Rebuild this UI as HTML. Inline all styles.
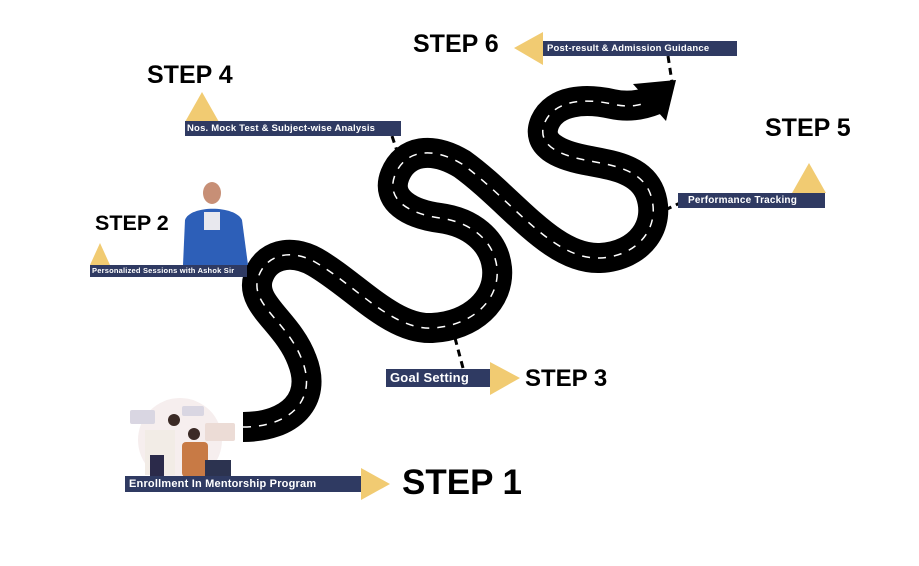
<!DOCTYPE html>
<html><head><meta charset="utf-8"><style>
body{margin:0;width:919px;height:566px;background:#fff;overflow:hidden;position:relative;font-family:"Liberation Sans",sans-serif}
.lbl{position:absolute;background:#2f3a62;color:#fff;font-weight:bold;white-space:nowrap;box-sizing:border-box;padding-left:4px;letter-spacing:0.2px}
.step{position:absolute;font-weight:bold;color:#000;white-space:nowrap}
</style></head><body>
<svg width="919" height="566" style="position:absolute;left:0;top:0">
<g stroke="#000" stroke-width="3" stroke-dasharray="7 5" fill="none">
<line x1="392" y1="136" x2="400" y2="160"/>
<line x1="455" y1="338" x2="463" y2="368"/>
<line x1="668" y1="56" x2="672" y2="82"/>
<line x1="665" y1="210" x2="680" y2="203"/>
</g>
<path d="M243,427 C290,427 318,400 302,360 C288,322 250,305 258,278 C265,255 290,248 315,262 C355,285 392,330 432,328 C472,326 500,300 497,268 C494,240 470,222 440,218 C410,214 385,200 395,175 C405,150 432,146 462,164 C512,200 552,260 600,258 C640,256 662,225 650,193 C640,168 610,165 585,160 C560,155 535,145 545,122 C555,100 585,98 612,104 C630,108 645,104 655,100" fill="none" stroke="#000" stroke-width="30"/>
<path d="M243,427 C290,427 318,400 302,360 C288,322 250,305 258,278 C265,255 290,248 315,262 C355,285 392,330 432,328 C472,326 500,300 497,268 C494,240 470,222 440,218 C410,214 385,200 395,175 C405,150 432,146 462,164 C512,200 552,260 600,258 C640,256 662,225 650,193 C640,168 610,165 585,160 C560,155 535,145 545,122 C555,100 585,98 612,104 C630,108 640,105 648,102" fill="none" stroke="#fff" stroke-width="1.5" stroke-dasharray="8 8"/>
<polygon points="633,84 676,80 666,121" fill="#000"/>
<g fill="#f1cb72">
<polygon points="361,468 361,500 390,484"/>
<polygon points="490,362 490,395 520,378"/>
<polygon points="90,265 110,265 100,243"/>
<polygon points="185,122 219,122 202,92"/>
<polygon points="792,193 826,193 809,163"/>
<polygon points="543,32 543,65 514,48"/>
</g>
<circle cx="180" cy="440" r="42" fill="#f6eeee"/>
<rect x="130" y="410" width="25" height="14" rx="2" fill="#d9d6e2"/>
<rect x="182" y="406" width="22" height="10" rx="2" fill="#d9d6e2"/>
<rect x="205" y="423" width="30" height="18" rx="2" fill="#ecdcd6"/>
<circle cx="174" cy="420" r="6" fill="#3b2a26"/>
<rect x="145" y="430" width="30" height="45" fill="#f2ece6"/>
<circle cx="194" cy="434" r="6" fill="#3b2a26"/>
<rect x="182" y="442" width="26" height="35" rx="4" fill="#c87a45"/>
<rect x="150" y="455" width="14" height="22" fill="#2b2a4a"/>
<rect x="205" y="460" width="26" height="16" fill="#2c3350"/>
<ellipse cx="212" cy="193" rx="9" ry="11" fill="#c78f76"/>
<path d="M183,265 L185,220 C190,205 235,205 242,220 L248,265 Z" fill="#2d5fb8"/>
<rect x="204" y="212" width="16" height="18" fill="#e8e8ee"/>
</svg>
<div class="lbl" style="left:125px;top:476px;width:236px;height:16px;font-size:11px;line-height:16px">Enrollment In Mentorship Program</div>
<div class="step" style="left:402px;top:463px;font-size:35px">STEP 1</div>
<div class="lbl" style="left:386px;top:369px;width:104px;height:18px;font-size:13px;line-height:18px">Goal Setting</div>
<div class="step" style="left:525px;top:365px;font-size:24px">STEP 3</div>
<div class="lbl" style="left:90px;top:265px;width:157px;height:12px;font-size:7.5px;line-height:12px;padding-left:2px">Personalized Sessions with Ashok Sir</div>
<div class="step" style="left:95px;top:211px;font-size:21.5px">STEP 2</div>
<div class="lbl" style="left:185px;top:121px;width:216px;height:15px;font-size:9.5px;line-height:15px;padding-left:2px">Nos. Mock Test &amp; Subject-wise Analysis</div>
<div class="step" style="left:147px;top:61px;font-size:25px">STEP 4</div>
<div class="lbl" style="left:678px;top:193px;width:147px;height:15px;font-size:10px;line-height:15px;padding-left:10px">Performance Tracking</div>
<div class="step" style="left:765px;top:114px;font-size:25px">STEP 5</div>
<div class="lbl" style="left:543px;top:41px;width:194px;height:15px;font-size:9.5px;line-height:15px">Post-result &amp; Admission Guidance</div>
<div class="step" style="left:413px;top:30px;font-size:25px">STEP 6</div>
</body></html>
